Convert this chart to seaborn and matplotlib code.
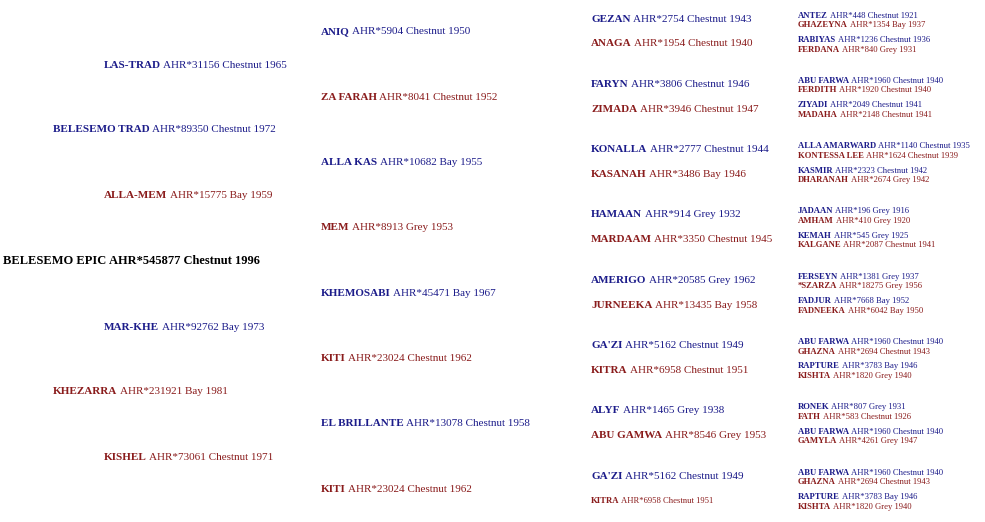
import matplotlib
matplotlib.use("Agg")
import matplotlib.pyplot as plt
import seaborn as sns

# pedigree data, generation by generation (sire first, then dam)
gen0_names = ["BELESEMO EPIC"]
gen0_info = ["AHR*545877 Chestnut 1996"]

gen1_names = ["BELESEMO TRAD", "KHEZARRA"]
gen1_info = ["AHR*89350 Chestnut 1972", "AHR*231921 Bay 1981"]

gen2_names = ["LAS-TRAD", "ALLA-MEM", "MAR-KHE", "KISHEL"]
gen2_info = ["AHR*31156 Chestnut 1965", "AHR*15775 Bay 1959",
             "AHR*92762 Bay 1973", "AHR*73061 Chestnut 1971"]

gen3_names = ["ANIQ", "ZA FARAH", "ALLA KAS", "MEM",
              "KHEMOSABI", "KITI", "EL BRILLANTE", "KITI"]
gen3_info = ["AHR*5904 Chestnut 1950", "AHR*8041 Chestnut 1952",
             "AHR*10682 Bay 1955", "AHR*8913 Grey 1953",
             "AHR*45471 Bay 1967", "AHR*23024 Chestnut 1962",
             "AHR*13078 Chestnut 1958", "AHR*23024 Chestnut 1962"]

gen4_names = ["GEZAN", "ANAGA", "FARYN", "ZIMADA", "KONALLA", "KASANAH",
              "HAMAAN", "MARDAAM", "AMERIGO", "JURNEEKA", "GA'ZI", "KITRA",
              "ALYF", "ABU GAMWA", "GA'ZI", "KITRA"]
gen4_info = ["AHR*2754 Chestnut 1943", "AHR*1954 Chestnut 1940",
             "AHR*3806 Chestnut 1946", "AHR*3946 Chestnut 1947",
             "AHR*2777 Chestnut 1944", "AHR*3486 Bay 1946",
             "AHR*914 Grey 1932", "AHR*3350 Chestnut 1945",
             "AHR*20585 Grey 1962", "AHR*13435 Bay 1958",
             "AHR*5162 Chestnut 1949", "AHR*6958 Chestnut 1951",
             "AHR*1465 Grey 1938", "AHR*8546 Grey 1953",
             "AHR*5162 Chestnut 1949", "AHR*6958 Chestnut 1951"]

gen5_names = ["ANTEZ", "GHAZEYNA", "RABIYAS", "FERDANA",
              "ABU FARWA", "FERDITH", "ZIYADI", "MADAHA",
              "ALLA AMARWARD", "KONTESSA LEE", "KASMIR", "DHARANAH",
              "JADAAN", "AMHAM", "KEMAH", "KALGANE",
              "FERSEYN", "*SZARZA", "FADJUR", "FADNEEKA",
              "ABU FARWA", "GHAZNA", "RAPTURE", "KISHTA",
              "RONEK", "FATH", "ABU FARWA", "GAMYLA",
              "ABU FARWA", "GHAZNA", "RAPTURE", "KISHTA"]
gen5_info = ["AHR*448 Chestnut 1921", "AHR*1354 Bay 1937",
             "AHR*1236 Chestnut 1936", "AHR*840 Grey 1931",
             "AHR*1960 Chestnut 1940", "AHR*1920 Chestnut 1940",
             "AHR*2049 Chestnut 1941", "AHR*2148 Chestnut 1941",
             "AHR*1140 Chestnut 1935", "AHR*1624 Chestnut 1939",
             "AHR*2323 Chestnut 1942", "AHR*2674 Grey 1942",
             "AHR*196 Grey 1916", "AHR*410 Grey 1920",
             "AHR*545 Grey 1925", "AHR*2087 Chestnut 1941",
             "AHR*1381 Grey 1937", "AHR*18275 Grey 1956",
             "AHR*7668 Bay 1952", "AHR*6042 Bay 1950",
             "AHR*1960 Chestnut 1940", "AHR*2694 Chestnut 1943",
             "AHR*3783 Bay 1946", "AHR*1820 Grey 1940",
             "AHR*807 Grey 1931", "AHR*583 Chestnut 1926",
             "AHR*1960 Chestnut 1940", "AHR*4261 Grey 1947",
             "AHR*1960 Chestnut 1940", "AHR*2694 Chestnut 1943",
             "AHR*3783 Bay 1946", "AHR*1820 Grey 1940"]

SIRE = "#1c1c8a"
DAM = "#8a1c1c"

sns.set_theme(style="white", font="Liberation Serif")
fig = plt.figure(figsize=(9.85, 5.22), dpi=100)
ax = fig.add_axes([0, 0, 1, 1])
ax.set_xlim(0, 985)
ax.set_ylim(522, 0)
ax.axis("off")
renderer = fig.canvas.get_renderer()


def draw_entry(x, y, name, info, color, size, info_bold=False):
    t = ax.text(x, y, name, color=color, fontsize=size, fontweight="bold",
                va="center", ha="left")
    bb = t.get_window_extent(renderer=renderer)
    x2 = ax.transData.inverted().transform((bb.x1, bb.y0))[0]
    ax.text(x2 + size * 0.3, y, info, color=color, fontsize=size,
            fontweight="bold" if info_bold else "normal",
            va="center", ha="left")


# layout: y positions in pixels
gen0_y = [261]
gen1_y = [130, 392]
gen2_y = [65, 195, 327, 457]
gen3_y = [32 + 65.3 * i for i in range(8)]
gen4_y = []
for i in range(8):
    gen4_y += [19 + 65.3 * i, 44 + 65.3 * i]
gen5_y = []
for i in range(8):
    b = 15.5 + 65.3 * i
    gen5_y += [b, b + 9.5, b + 24.5, b + 34]

for i, (n, inf) in enumerate(zip(gen0_names, gen0_info)):
    draw_entry(3, gen0_y[i], n, inf, "black", 9.0, info_bold=True)
for i, (n, inf) in enumerate(zip(gen1_names, gen1_info)):
    draw_entry(53, gen1_y[i], n, inf, SIRE if i % 2 == 0 else DAM, 8.0)
for i, (n, inf) in enumerate(zip(gen2_names, gen2_info)):
    draw_entry(104, gen2_y[i], n, inf, SIRE if i % 2 == 0 else DAM, 8.0)
for i, (n, inf) in enumerate(zip(gen3_names, gen3_info)):
    draw_entry(321, gen3_y[i], n, inf, SIRE if i % 2 == 0 else DAM, 8.0)
for i, (n, inf) in enumerate(zip(gen4_names, gen4_info)):
    size = 6.2 if i == len(gen4_names) - 1 else 8.0
    draw_entry(591, gen4_y[i], n, inf, SIRE if i % 2 == 0 else DAM, size)
for i, (n, inf) in enumerate(zip(gen5_names, gen5_info)):
    draw_entry(798, gen5_y[i], n, inf, SIRE if i % 2 == 0 else DAM, 6.2)

fig.savefig("out.png", dpi=100, facecolor="white")
